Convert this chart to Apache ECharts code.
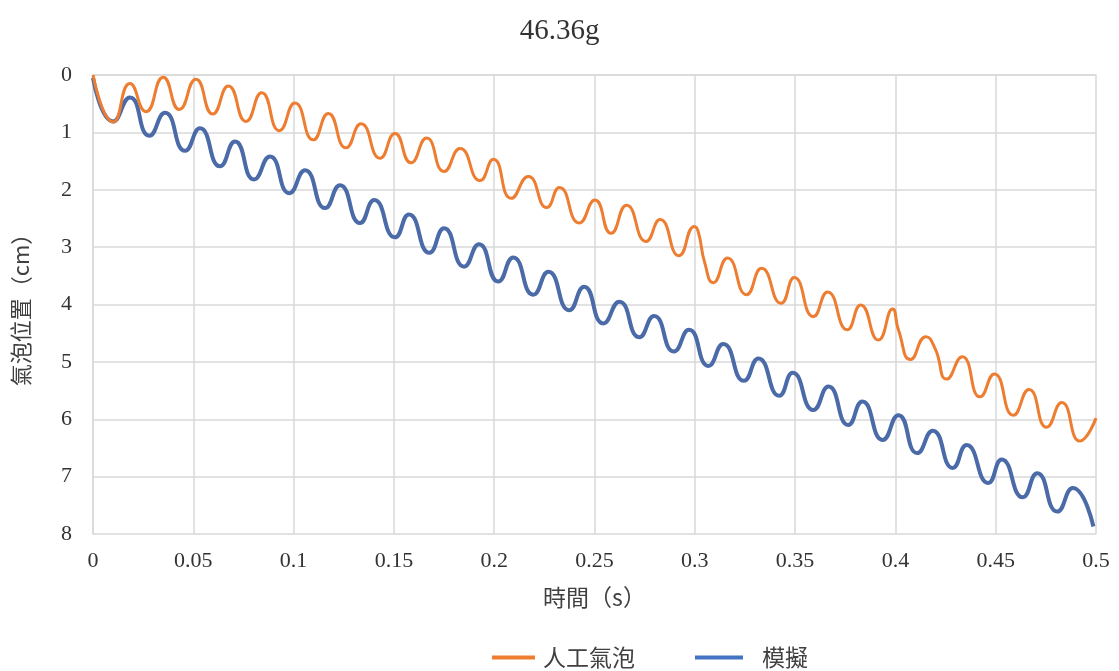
<!DOCTYPE html>
<html><head><meta charset="utf-8">
<script src="https://cdn.jsdelivr.net/npm/echarts@6/dist/echarts.min.js"></script>
<style>html,body{margin:0;padding:0;background:#fff}#c{width:1119px;height:671px}</style>
</head><body><div id="c"></div>
<script>
const titleText = '46.36g';
const xName = '時間（s）';
const yName = '氣泡位置（cm）';
const seriesNames = ['人工氣泡', '模擬'];

const orangeT = [0,0.0101,0.0184,0.0264,0.035,0.043,0.0513,0.0597,0.0675,0.0763,0.0841,0.0929,0.1007,0.1098,0.1173,0.1261,0.1336,0.1431,0.1505,0.1585,0.1663,0.175,0.183,0.1929,0.1996,0.2085,0.217,0.2262,0.2325,0.2424,0.2502,0.2582,0.266,0.2757,0.2827,0.2921,0.2998,0.3017,0.305,0.3092,0.3163,0.3258,0.3333,0.343,0.3496,0.3591,0.3662,0.376,0.3827,0.3915,0.3986,0.4015,0.4076,0.4152,0.4197,0.4256,0.4333,0.4422,0.4493,0.4588,0.4666,0.4754,0.4829,0.492,0.5];
const orangeY = [0,0.82,0.15,0.64,0.04,0.60,0.075,0.68,0.19,0.81,0.31,0.97,0.49,1.13,0.67,1.27,0.85,1.45,1.02,1.53,1.10,1.68,1.28,1.84,1.47,2.15,1.77,2.31,1.96,2.58,2.18,2.76,2.27,2.90,2.52,3.15,2.64,2.73,3.28,3.62,3.19,3.83,3.37,3.98,3.53,4.21,3.78,4.44,4.01,4.62,4.08,4.44,4.96,4.56,4.76,5.30,4.91,5.61,5.21,5.93,5.48,6.14,5.71,6.38,5.98];

const blueT = [0,0.0101,0.0184,0.0281,0.0359,0.0459,0.0533,0.0633,0.0708,0.0803,0.0882,0.0979,0.1057,0.1157,0.1231,0.1331,0.1402,0.1505,0.1575,0.1677,0.175,0.185,0.1924,0.202,0.2095,0.2195,0.227,0.2374,0.2448,0.2544,0.2624,0.2723,0.2797,0.2896,0.2971,0.3068,0.3142,0.3245,0.3317,0.3421,0.3488,0.3591,0.3666,0.3765,0.3835,0.3937,0.4015,0.4109,0.4186,0.4286,0.4355,0.4463,0.453,0.4635,0.4707,0.4807,0.4884,0.4987];
const blueY = [0.05,0.81,0.39,1.06,0.66,1.32,0.93,1.59,1.16,1.82,1.42,2.06,1.66,2.32,1.92,2.58,2.18,2.83,2.43,3.10,2.67,3.34,2.95,3.60,3.18,3.83,3.43,4.10,3.69,4.33,3.95,4.57,4.20,4.82,4.44,5.07,4.69,5.33,4.94,5.59,5.19,5.84,5.43,6.10,5.69,6.36,5.93,6.59,6.20,6.85,6.45,7.11,6.70,7.36,6.94,7.61,7.20,7.87];

const xTicks = [0,0.05,0.1,0.15,0.2,0.25,0.3,0.35,0.4,0.45,0.5];
const yTicks = [0,1,2,3,4,5,6,7,8];

const pairs = (t, y) => t.map((v, i) => [v, y[i]]);
const serif = "'Liberation Serif','Noto Sans CJK TC',serif";
const cjk = "'Noto Sans CJK TC','Liberation Serif',serif";

const chart = echarts.init(document.getElementById('c'), null, {renderer: 'canvas'});
chart.setOption({
  animation: false,
  backgroundColor: '#fff',
  title: {text: titleText, left: 'center', top: 12,
    textStyle: {fontFamily: serif, fontSize: 29, fontWeight: 'normal', color: '#333'}},
  grid: {left: 93, right: 23, top: 75, bottom: 137, containLabel: false},
  legend: [
    {left: 487, top: 641, itemWidth: 43, itemHeight: 4, icon: 'rect',
      textStyle: {fontFamily: cjk, fontSize: 23, color: '#404040', padding: [0,0,0,3]},
      data: [seriesNames[0]]},
    {left: 690, top: 641, itemWidth: 48, itemHeight: 4, icon: 'rect',
      textStyle: {fontFamily: cjk, fontSize: 23, color: '#404040', padding: [0,0,0,14]},
      data: [seriesNames[1]]}
  ],
  xAxis: {type: 'value', min: 0, max: 0.5, interval: 0.05,
    name: xName, nameLocation: 'middle', nameGap: 52,
    nameTextStyle: {fontFamily: cjk, fontSize: 23, color: '#404040'},
    axisLine: {show: true, lineStyle: {color: '#d9d9d9', width: 1.5}},
    axisTick: {show: false},
    axisLabel: {margin: 16, fontFamily: serif, fontSize: 22, color: '#333',
      formatter: v => { const r = Math.round(v*100)/100; return xTicks.some(t => Math.abs(t-r) < 1e-9) ? String(r) : ''; }},
    splitLine: {show: true, lineStyle: {color: '#d9d9d9', width: 1.5}}},
  yAxis: {type: 'value', min: 0, max: 8, interval: 1, inverse: true,
    name: yName, nameLocation: 'middle', nameGap: 61, nameRotate: 90,
    nameTextStyle: {fontFamily: cjk, fontSize: 22, color: '#404040'},
    axisLine: {show: true, lineStyle: {color: '#d9d9d9', width: 1.5}},
    axisTick: {show: false},
    axisLabel: {margin: 21, fontFamily: serif, fontSize: 22, color: '#333',
      formatter: v => yTicks.includes(v) ? String(v) : ''},
    splitLine: {show: true, lineStyle: {color: '#d9d9d9', width: 1.5}}},
  series: [
    {name: seriesNames[0], type: 'line', data: pairs(orangeT, orangeY), smooth: 0.55,
      showSymbol: false, z: 3, color: '#ED7D31', lineStyle: {color: '#ED7D31', width: 3}},
    {name: seriesNames[1], type: 'line', data: pairs(blueT, blueY), smooth: 0.55,
      showSymbol: false, z: 2, color: '#4472C4', lineStyle: {color: '#4a6aa8', width: 4}}
  ]
});
</script></body></html>
